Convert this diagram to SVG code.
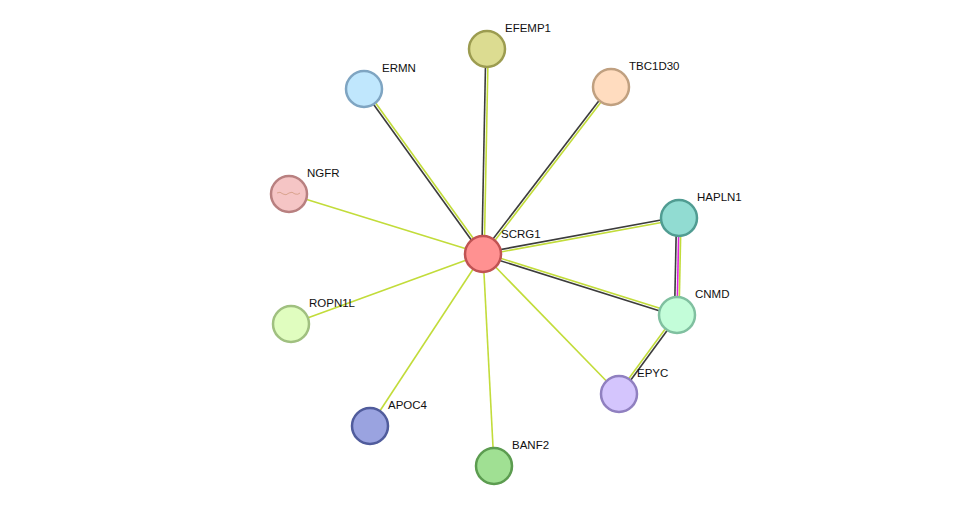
<svg xmlns="http://www.w3.org/2000/svg" width="975" height="512" viewBox="0 0 975 512">
<style>
.d{stroke:#3c3c3c;stroke-width:1.6;fill:none}
.y{stroke:#c2dc3a;stroke-width:1.6;fill:none}
.m{stroke:#e020e0;stroke-width:1.6;fill:none}
.n{stroke-width:2.5}
text{font-family:"Liberation Sans",Arial,sans-serif;font-size:11.5px;fill:#111}
</style>
<rect width="975" height="512" fill="#fff"/>
<g id="edges">
<line class="y" x1="483" y1="254" x2="289" y2="194"/>
<line class="y" x1="483" y1="254" x2="291" y2="324"/>
<line class="y" x1="483" y1="254" x2="370" y2="426"/>
<line class="y" x1="483" y1="254" x2="494" y2="466"/>
<line class="y" x1="483" y1="254" x2="619" y2="394"/>
<line class="d" x1="363" y1="89.7" x2="482" y2="254.7"/>
<line class="y" x1="365" y1="88.3" x2="484" y2="253.3"/>
<line class="d" x1="485.8" y1="49" x2="481.8" y2="254"/>
<line class="y" x1="488.2" y1="49" x2="484.2" y2="254"/>
<line class="d" x1="482.05" y1="253.27" x2="610.05" y2="86.27"/>
<line class="y" x1="483.95" y1="254.73" x2="611.95" y2="87.73"/>
<line class="d" x1="482.78" y1="252.82" x2="678.78" y2="216.82"/>
<line class="y" x1="483.22" y1="255.18" x2="679.22" y2="219.18"/>
<line class="d" x1="482.64" y1="255.14" x2="676.64" y2="316.14"/>
<line class="y" x1="483.36" y1="252.86" x2="677.36" y2="313.86"/>
<line class="d" x1="676.5" y1="218" x2="674.5" y2="315"/>
<line class="m" x1="679" y1="218" x2="677" y2="315"/>
<line class="y" x1="681" y1="218" x2="679" y2="315"/>
<line class="d" x1="677.97" y1="315.71" x2="619.97" y2="394.71"/>
<line class="y" x1="676.03" y1="314.29" x2="618.03" y2="393.29"/>
</g>
<g id="SCRG1"><circle class="n" cx="483" cy="254" r="18" fill="#ff9191" stroke="#c05353"/><text x="501" y="238">SCRG1</text></g>
<g id="EFEMP1"><circle class="n" cx="487" cy="49" r="18" fill="#dcdc91" stroke="#9c9c50"/><text x="505" y="32">EFEMP1</text></g>
<g id="ERMN"><circle class="n" cx="364" cy="89" r="18" fill="#c0e7fd" stroke="#7fa5c2"/><text x="382" y="72">ERMN</text></g>
<g id="TBC1D30"><circle class="n" cx="611" cy="87" r="18" fill="#ffdcbf" stroke="#c0a080"/><text x="629" y="70">TBC1D30</text></g>
<g id="NGFR"><circle class="n" cx="289" cy="194" r="18" fill="#f5c5c5" stroke="#b88080"/><path d="M277,193 q3,-2 6,1 q3,2 6,-1 q3,-2 6,1 q3,1 5,-1" fill="none" stroke="#d29a80" stroke-width="0.8"/><text x="307" y="177">NGFR</text></g>
<g id="HAPLN1"><circle class="n" cx="679" cy="218" r="18" fill="#91dcd2" stroke="#509c92"/><text x="697" y="201">HAPLN1</text></g>
<g id="CNMD"><circle class="n" cx="677" cy="315" r="18" fill="#c3fdd9" stroke="#80c0a0"/><text x="695" y="298">CNMD</text></g>
<g id="ROPN1L"><circle class="n" cx="291" cy="324" r="18" fill="#e0fdbf" stroke="#a0c080"/><text x="309" y="307">ROPN1L</text></g>
<g id="EPYC"><circle class="n" cx="619" cy="394" r="18" fill="#d4c5fd" stroke="#9080c0"/><text x="637" y="377">EPYC</text></g>
<g id="APOC4"><circle class="n" cx="370" cy="426" r="18" fill="#9aa3e0" stroke="#505c9c"/><text x="388" y="409">APOC4</text></g>
<g id="BANF2"><circle class="n" cx="494" cy="466" r="18" fill="#a0e093" stroke="#5c9c50"/><text x="512" y="449">BANF2</text></g>
</svg>
